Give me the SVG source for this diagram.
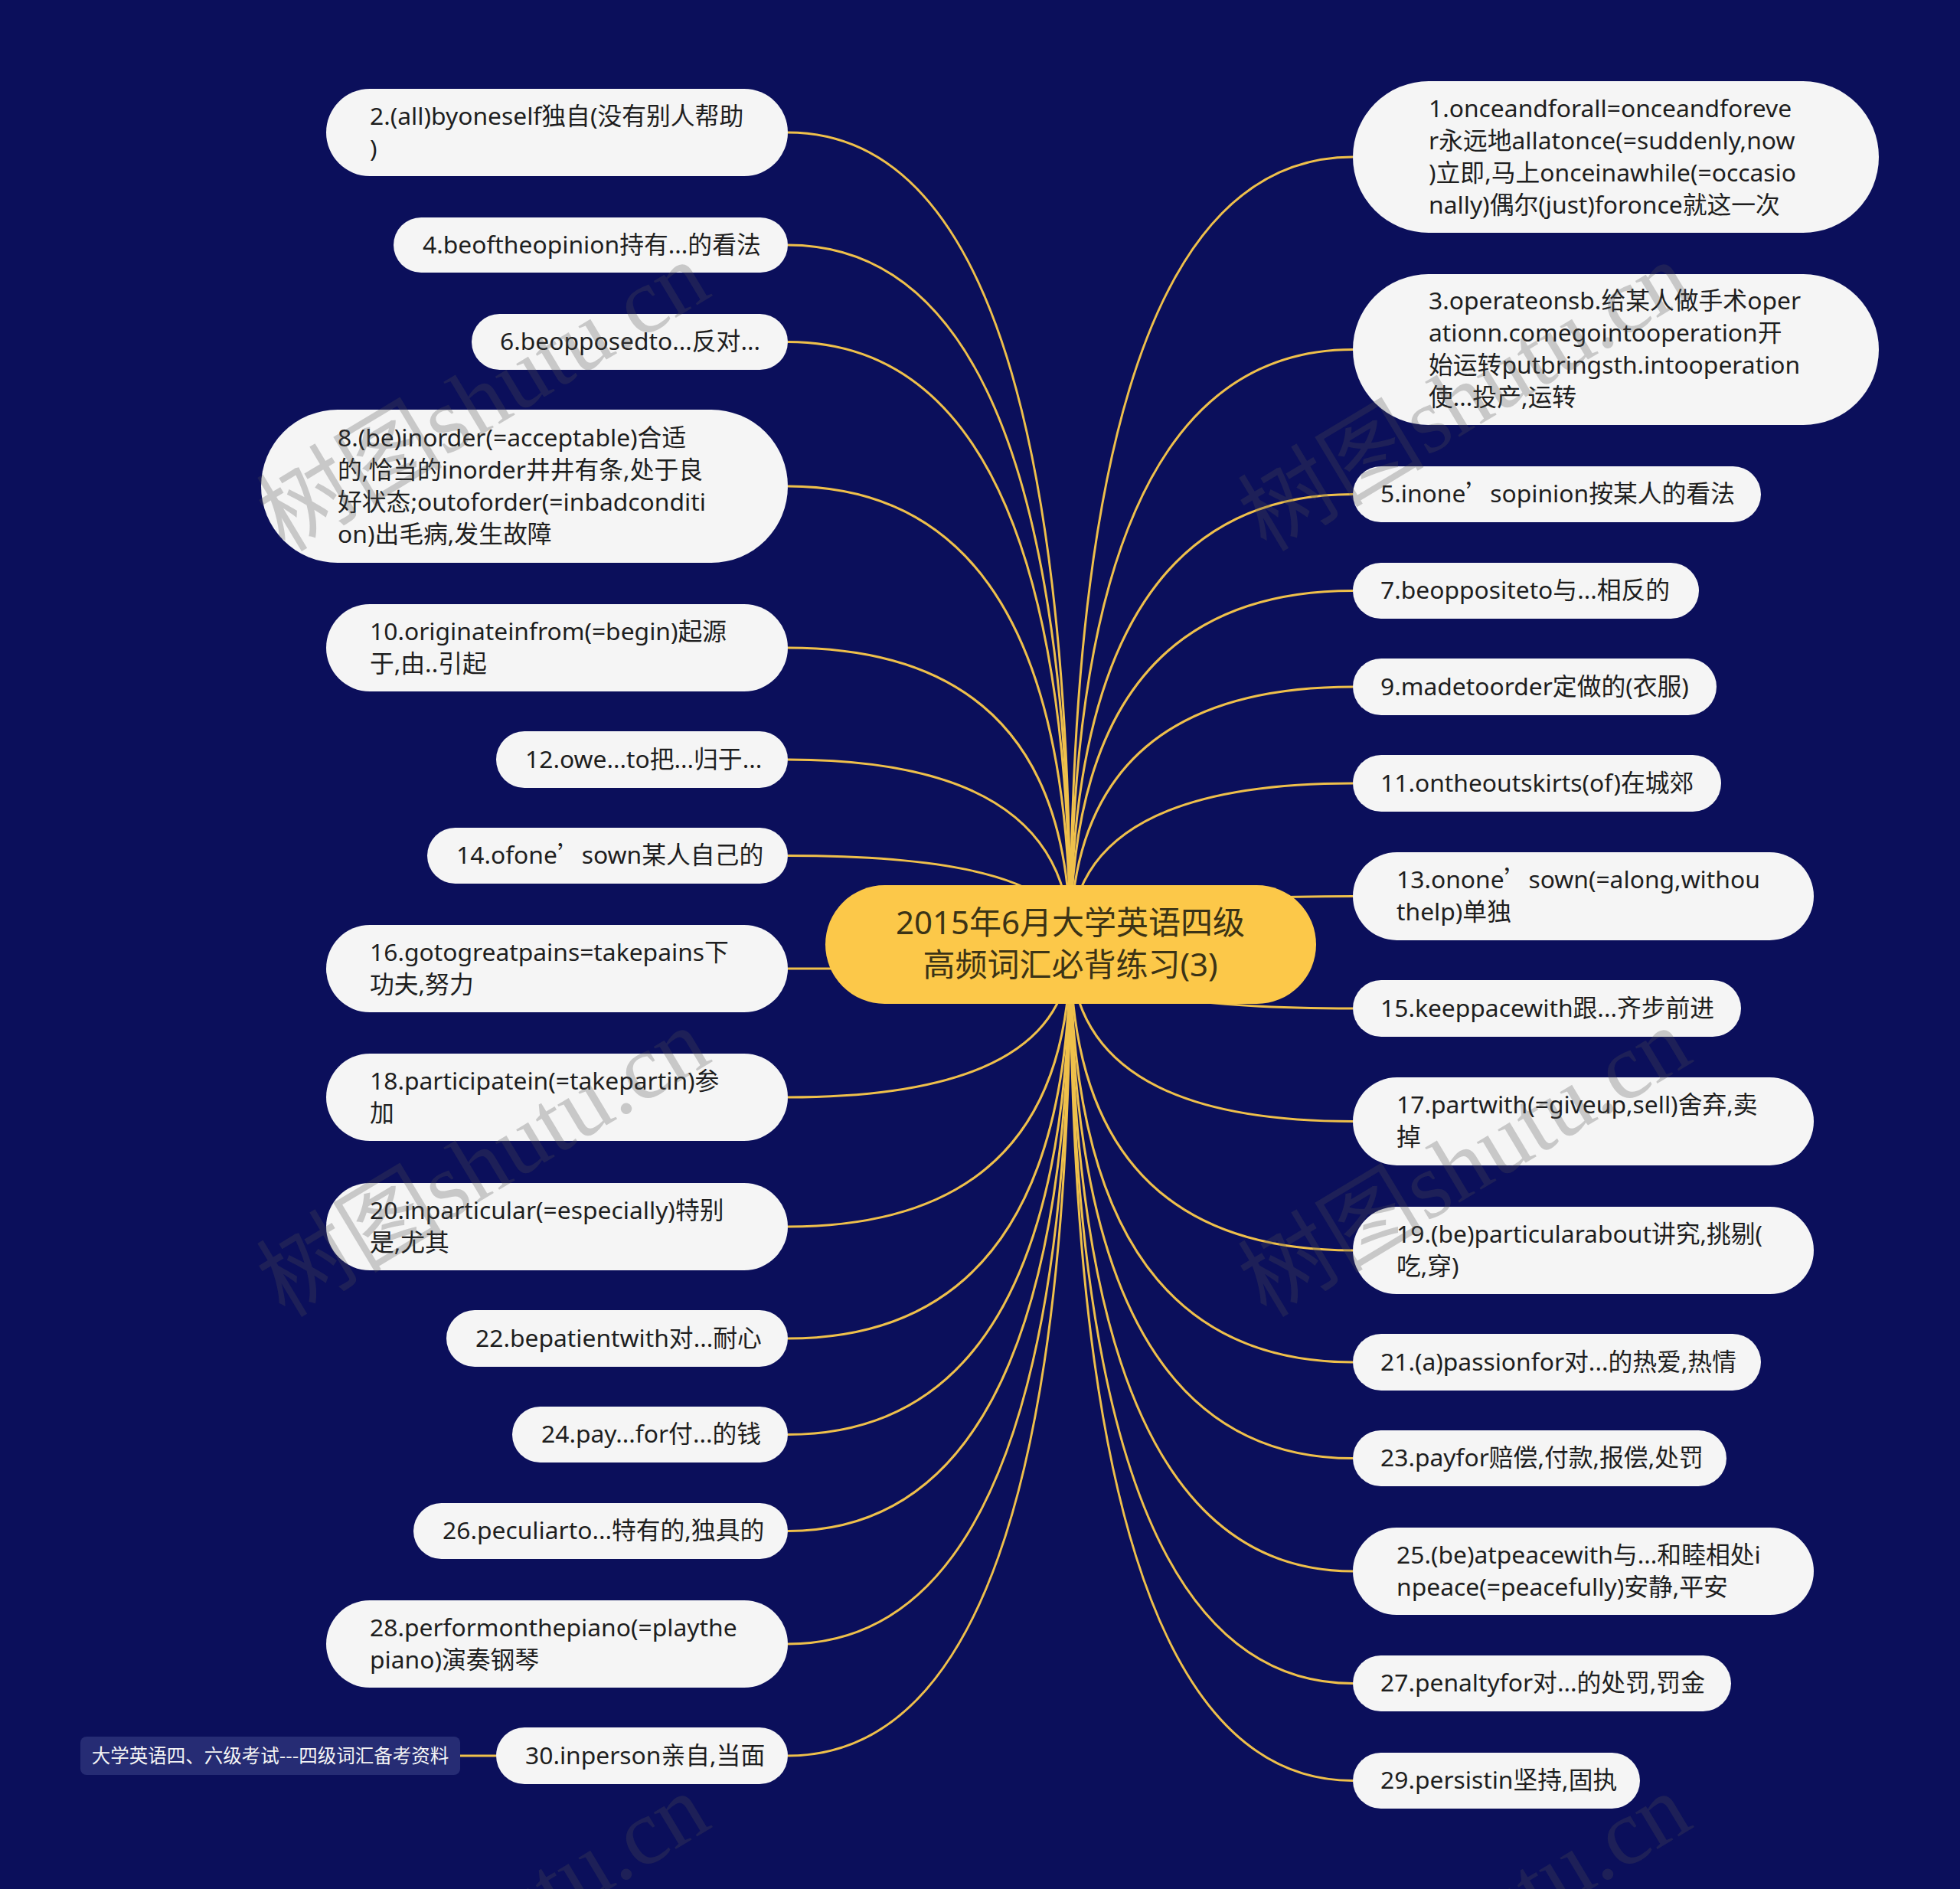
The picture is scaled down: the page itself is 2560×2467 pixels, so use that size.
<svg xmlns="http://www.w3.org/2000/svg" width="2560" height="2467" viewBox="0 0 2560 2467">
<defs>
<style>
.bg{fill:#0b0f5b}
.nd{fill:#f5f5f5}
.t{font-family:"Noto Sans","Noto Sans CJK SC",sans-serif;font-size:31.8px;fill:#1e1e1e}
.q{font-family:"Noto Sans CJK SC",sans-serif}
.root{fill:#fcc849}
.rt{font-family:"Noto Sans","Noto Sans CJK SC",sans-serif;font-size:42px;fill:#3b3316;text-anchor:middle}
.ln{fill:none;stroke:#efc04b;stroke-width:3}
.lb{fill:#262c74}
.lt{font-family:"Noto Sans CJK SC",sans-serif;font-size:24.5px;fill:#f4f4f4;text-anchor:middle}
.wm{font-family:"Liberation Serif","Noto Sans CJK SC",serif;font-size:122px;fill:#505050;fill-opacity:0.27}
</style>
</defs>
<rect class="bg" x="0" y="0" width="2560" height="2467"/>
<g id="connectors">
<path class="ln" d="M1029,173 Q1398,173 1398,1234"/>
<path class="ln" d="M1029,320 Q1398,320 1398,1234"/>
<path class="ln" d="M1029,446.5 Q1398,446.5 1398,1234"/>
<path class="ln" d="M1029,635 Q1398,635 1398,1234"/>
<path class="ln" d="M1029,846 Q1398,846 1398,1234"/>
<path class="ln" d="M1029,992 Q1398,992 1398,1234"/>
<path class="ln" d="M1029,1117.5 Q1398,1117.5 1398,1234"/>
<path class="ln" d="M1029,1265 Q1398,1265 1398,1234"/>
<path class="ln" d="M1029,1433 Q1398,1433 1398,1234"/>
<path class="ln" d="M1029,1602 Q1398,1602 1398,1234"/>
<path class="ln" d="M1029,1748 Q1398,1748 1398,1234"/>
<path class="ln" d="M1029,1873.5 Q1398,1873.5 1398,1234"/>
<path class="ln" d="M1029,1999.5 Q1398,1999.5 1398,1234"/>
<path class="ln" d="M1029,2147 Q1398,2147 1398,1234"/>
<path class="ln" d="M1029,2293 Q1398,2293 1398,1234"/>
<path class="ln" d="M1767,205 Q1398,205 1398,1234"/>
<path class="ln" d="M1767,456.5 Q1398,456.5 1398,1234"/>
<path class="ln" d="M1767,645.5 Q1398,645.5 1398,1234"/>
<path class="ln" d="M1767,771.5 Q1398,771.5 1398,1234"/>
<path class="ln" d="M1767,897 Q1398,897 1398,1234"/>
<path class="ln" d="M1767,1023 Q1398,1023 1398,1234"/>
<path class="ln" d="M1767,1170.5 Q1398,1170.5 1398,1234"/>
<path class="ln" d="M1767,1317 Q1398,1317 1398,1234"/>
<path class="ln" d="M1767,1464.5 Q1398,1464.5 1398,1234"/>
<path class="ln" d="M1767,1633 Q1398,1633 1398,1234"/>
<path class="ln" d="M1767,1779 Q1398,1779 1398,1234"/>
<path class="ln" d="M1767,1904.5 Q1398,1904.5 1398,1234"/>
<path class="ln" d="M1767,2052 Q1398,2052 1398,1234"/>
<path class="ln" d="M1767,2198.5 Q1398,2198.5 1398,1234"/>
<path class="ln" d="M1767,2325.5 Q1398,2325.5 1398,1234"/>
<path class="ln" d="M601,2293 L648,2293"/>
</g>
<g id="root">
<rect class="root" x="1078" y="1156" width="641" height="155" rx="77.5"/>
<text class="rt" x="1398" y="1220">2015年6月大学英语四级</text>
<text class="rt" x="1398" y="1275">高频词汇必背练习(3)</text>
</g>
<g id="n2"><rect class="nd" x="426" y="116" width="603" height="114" rx="57"/><text class="t" x="483" y="163">2.(all)byoneself独自(没有别人帮助</text><text class="t" x="483" y="205">)</text></g>
<g id="n4"><rect class="nd" x="514" y="284" width="515" height="72" rx="36"/><text class="t" x="552" y="331">4.beoftheopinion持有...的看法</text></g>
<g id="n6"><rect class="nd" x="616" y="410" width="413" height="73" rx="36.5"/><text class="t" x="653" y="457">6.beopposedto...反对...</text></g>
<g id="n8"><rect class="nd" x="341" y="535" width="688" height="200" rx="100"/><text class="t" x="441" y="583">8.(be)inorder(=acceptable)合适</text><text class="t" x="441" y="625">的,恰当的inorder井井有条,处于良</text><text class="t" x="441" y="667">好状态;outoforder(=inbadconditi</text><text class="t" x="441" y="709">on)出毛病,发生故障</text></g>
<g id="n10"><rect class="nd" x="426" y="789" width="603" height="114" rx="57"/><text class="t" x="483" y="836">10.originateinfrom(=begin)起源</text><text class="t" x="483" y="878">于,由..引起</text></g>
<g id="n12"><rect class="nd" x="648" y="955" width="381" height="74" rx="37"/><text class="t" x="686" y="1003">12.owe...to把...归于...</text></g>
<g id="n14"><rect class="nd" x="558" y="1081" width="471" height="73" rx="36.5"/><text class="t" x="596" y="1128">14.ofone<tspan class="q">’</tspan>sown某人自己的</text></g>
<g id="n16"><rect class="nd" x="426" y="1208" width="603" height="114" rx="57"/><text class="t" x="483" y="1255">16.gotogreatpains=takepains下</text><text class="t" x="483" y="1297">功夫,努力</text></g>
<g id="n18"><rect class="nd" x="426" y="1376" width="603" height="114" rx="57"/><text class="t" x="483" y="1423">18.participatein(=takepartin)参</text><text class="t" x="483" y="1465">加</text></g>
<g id="n20"><rect class="nd" x="426" y="1545" width="603" height="114" rx="57"/><text class="t" x="483" y="1592">20.inparticular(=especially)特别</text><text class="t" x="483" y="1634">是,尤其</text></g>
<g id="n22"><rect class="nd" x="583" y="1711" width="446" height="74" rx="37"/><text class="t" x="621" y="1759">22.bepatientwith对...耐心</text></g>
<g id="n24"><rect class="nd" x="669" y="1837" width="360" height="73" rx="36.5"/><text class="t" x="707" y="1884">24.pay...for付...的钱</text></g>
<g id="n26"><rect class="nd" x="540" y="1963" width="489" height="73" rx="36.5"/><text class="t" x="578" y="2010">26.peculiarto...特有的,独具的</text></g>
<g id="n28"><rect class="nd" x="426" y="2090" width="603" height="114" rx="57"/><text class="t" x="483" y="2137">28.performonthepiano(=playthe</text><text class="t" x="483" y="2179">piano)演奏钢琴</text></g>
<g id="n30"><rect class="nd" x="648" y="2256" width="381" height="74" rx="37"/><text class="t" x="686" y="2304">30.inperson亲自,当面</text></g>
<g id="label30"><rect class="lb" x="105" y="2268" width="496" height="50" rx="8"/><text class="lt" x="353" y="2302">大学英语四、六级考试---四级词汇备考资料</text></g>
<g id="n1"><rect class="nd" x="1767" y="106" width="687" height="198" rx="99"/><text class="t" x="1866" y="153">1.onceandforall=onceandforeve</text><text class="t" x="1866" y="195">r永远地allatonce(=suddenly,now</text><text class="t" x="1866" y="237">)立即,马上onceinawhile(=occasio</text><text class="t" x="1866" y="279">nally)偶尔(just)foronce就这一次</text></g>
<g id="n3"><rect class="nd" x="1767" y="358" width="687" height="197" rx="98.5"/><text class="t" x="1866" y="404">3.operateonsb.给某人做手术oper</text><text class="t" x="1866" y="446">ationn.comegointooperation开</text><text class="t" x="1866" y="488">始运转putbringsth.intooperation</text><text class="t" x="1866" y="530">使...投产,运转</text></g>
<g id="n5"><rect class="nd" x="1767" y="609" width="533" height="73" rx="36.5"/><text class="t" x="1803" y="656">5.inone<tspan class="q">’</tspan>sopinion按某人的看法</text></g>
<g id="n7"><rect class="nd" x="1767" y="735" width="452" height="73" rx="36.5"/><text class="t" x="1803" y="782">7.beoppositeto与...相反的</text></g>
<g id="n9"><rect class="nd" x="1767" y="860" width="475" height="74" rx="37"/><text class="t" x="1803" y="908">9.madetoorder定做的(衣服)</text></g>
<g id="n11"><rect class="nd" x="1767" y="986" width="481" height="74" rx="37"/><text class="t" x="1803" y="1034">11.ontheoutskirts(of)在城郊</text></g>
<g id="n13"><rect class="nd" x="1767" y="1113" width="602" height="115" rx="57.5"/><text class="t" x="1824" y="1160">13.onone<tspan class="q">’</tspan>sown(=along,withou</text><text class="t" x="1824" y="1202">thelp)单独</text></g>
<g id="n15"><rect class="nd" x="1767" y="1280" width="507" height="74" rx="37"/><text class="t" x="1803" y="1328">15.keeppacewith跟...齐步前进</text></g>
<g id="n17"><rect class="nd" x="1767" y="1407" width="602" height="115" rx="57.5"/><text class="t" x="1824" y="1454">17.partwith(=giveup,sell)舍弃,卖</text><text class="t" x="1824" y="1496">掉</text></g>
<g id="n19"><rect class="nd" x="1767" y="1576" width="602" height="114" rx="57"/><text class="t" x="1824" y="1623">19.(be)particularabout讲究,挑剔(</text><text class="t" x="1824" y="1665">吃,穿)</text></g>
<g id="n21"><rect class="nd" x="1767" y="1742" width="533" height="74" rx="37"/><text class="t" x="1803" y="1790">21.(a)passionfor对...的热爱,热情</text></g>
<g id="n23"><rect class="nd" x="1767" y="1868" width="488" height="73" rx="36.5"/><text class="t" x="1803" y="1915">23.payfor赔偿,付款,报偿,处罚</text></g>
<g id="n25"><rect class="nd" x="1767" y="1995" width="602" height="114" rx="57"/><text class="t" x="1824" y="2042">25.(be)atpeacewith与...和睦相处i</text><text class="t" x="1824" y="2084">npeace(=peacefully)安静,平安</text></g>
<g id="n27"><rect class="nd" x="1767" y="2162" width="494" height="73" rx="36.5"/><text class="t" x="1803" y="2209">27.penaltyfor对...的处罚,罚金</text></g>
<g id="n29"><rect class="nd" x="1767" y="2289" width="375" height="73" rx="36.5"/><text class="t" x="1803" y="2336">29.persistin坚持,固执</text></g>
<g id="watermarks">
<text class="wm" transform="translate(372,722) rotate(-31)">树图shutu.cn</text>
<text class="wm" transform="translate(1654,722) rotate(-31)">树图shutu.cn</text>
<text class="wm" transform="translate(372,1722) rotate(-31)">树图shutu.cn</text>
<text class="wm" transform="translate(1654,1722) rotate(-31)">树图shutu.cn</text>
<text class="wm" transform="translate(372,2722) rotate(-31)">树图shutu.cn</text>
<text class="wm" transform="translate(1654,2722) rotate(-31)">树图shutu.cn</text>
</g>
</svg>
